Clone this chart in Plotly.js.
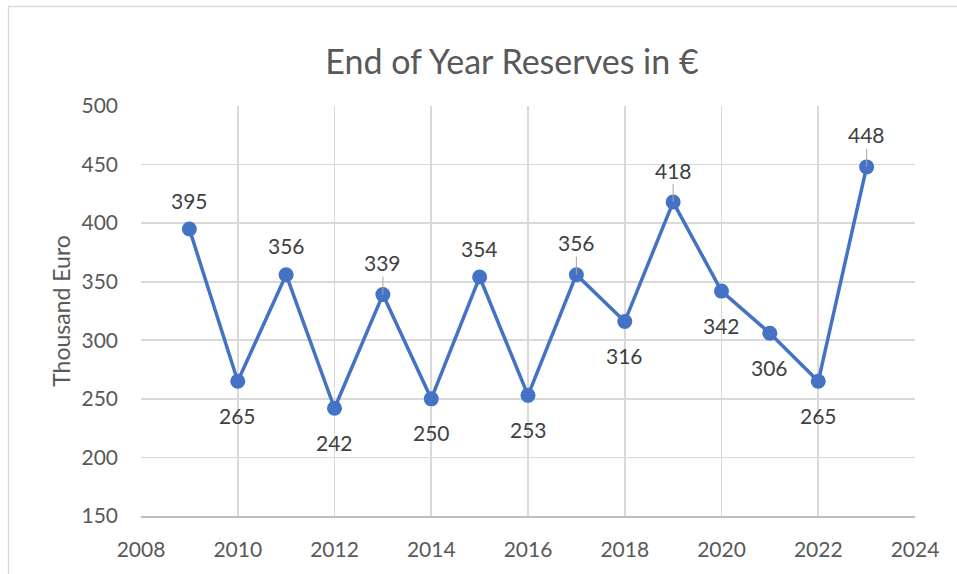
<!DOCTYPE html>
<html>
<head>
<meta charset="utf-8">
<script src="https://cdn.plot.ly/plotly-3.0.1.min.js"></script>
<style>
  html, body { margin: 0; padding: 0; background: #fff; }
  #chart { width: 957px; height: 574px; }
</style>
</head>
<body>
<div id="chart"></div>
<script>
// ---- data ----
const years = [2009, 2010, 2011, 2012, 2013, 2014, 2015, 2016, 2017, 2018, 2019, 2020, 2021, 2022, 2023];
const reserves = [395, 265, 356, 242, 339, 250, 354, 253, 356, 316, 418, 342, 306, 265, 448];
const titleText = "End of Year Reserves in €";
const yTitleText = "Thousand Euro";
const leaderYears = [2013, 2017, 2019, 2023];

// ---- style ----
const FONT = "Lato, 'Open Sans', sans-serif";
const BLUE = "#4472C4";

// label placement: above for local maxima, below otherwise
const annotations = years.map((yr, i) => {
  const v = reserves[i];
  const prev = i > 0 ? reserves[i - 1] : -Infinity;
  const next = i < reserves.length - 1 ? reserves[i + 1] : -Infinity;
  const above = v > prev && v > next;
  const base = {
    x: yr, y: v, xref: "x", yref: "y",
    text: String(v),
    font: { family: FONT, size: 21, color: "#404040" },
  };
  if (above && leaderYears.includes(yr)) {
    return Object.assign(base, {
      showarrow: true, ax: 0, ay: -32, arrowhead: 0, arrowwidth: 1,
      arrowcolor: "#a6a6a6", standoff: 0
    });
  }
  return Object.assign(base, {
    showarrow: false, yanchor: "middle", xanchor: "center",
    yshift: above ? 29 : -34
  });
});

const trace = {
  x: years, y: reserves, type: "scatter", mode: "lines+markers",
  line: { color: BLUE, width: 3.5 },
  marker: { color: BLUE, size: 15 },
  hoverinfo: "skip"
};

const L = 141, R = 42, T = 106, B = 58;
const W = 957, H = 574;
const pw = W - L - R, ph = H - T - B;

const layout = {
  width: W, height: H,
  margin: { l: L, r: R, t: T, b: B, pad: 0 },
  paper_bgcolor: "#ffffff", plot_bgcolor: "#ffffff",
  showlegend: false,
  font: { family: FONT, color: "#595959" },
  title: {
    text: titleText,
    font: { family: FONT, size: 34, color: "#595959" },
    x: 512 / W, xanchor: "center", xref: "container",
    y: 1 - 62 / H, yanchor: "middle", yref: "container"
  },
  xaxis: {
    range: [2008, 2024], dtick: 2, tick0: 2008,
    showgrid: true, gridcolor: "#d9d9d9", gridwidth: 1.6,
    zeroline: false, showline: true, linecolor: "#bfbfbf", linewidth: 1.6,
    ticks: "", ticklabelstandoff: 14,
    tickfont: { family: FONT, size: 21, color: "#595959" },
    fixedrange: true
  },
  yaxis: {
    range: [150, 500], dtick: 50, tick0: 150,
    showgrid: true, gridcolor: "#d9d9d9", gridwidth: 1.6,
    zeroline: false, showline: false,
    ticks: "", ticklabelstandoff: 22,
    tickfont: { family: FONT, size: 21, color: "#595959" },
    title: { text: yTitleText, font: { family: FONT, size: 23, color: "#595959" }, standoff: 4 },
    fixedrange: true
  },
  annotations: annotations,
  shapes: [{
    type: "rect", xref: "paper", yref: "paper",
    x0: (8.5 - L) / pw, x1: (W + 5 - L) / pw,
    y0: -(H + 5 - (H - B)) / ph, y1: ((H - B) - 6.5) / ph,
    line: { color: "#d9d9d9", width: 1.3 }, fillcolor: "rgba(0,0,0,0)", layer: "below"
  }]
};

Plotly.newPlot("chart", [trace], layout, { displayModeBar: false, staticPlot: true });
</script>
</body>
</html>
